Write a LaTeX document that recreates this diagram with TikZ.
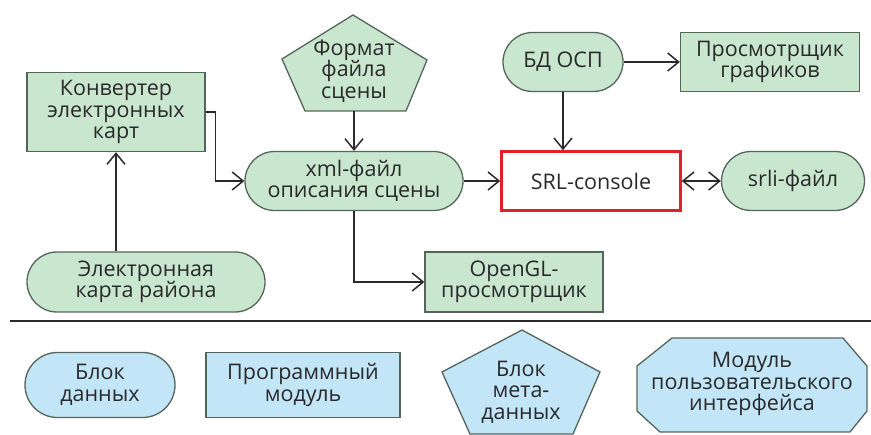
\documentclass[tikz,border=0pt]{standalone}
\usepackage{fontspec}
\setmainfont{Open Sans}
\usetikzlibrary{arrows.meta,shapes.misc}

\definecolor{greenfill}{HTML}{C9E6CF}
\definecolor{bluefill}{HTML}{C2E5F7}
\definecolor{edge}{HTML}{56655B}
\definecolor{ink}{HTML}{2A2A2A}
\definecolor{redbox}{HTML}{E0202A}

\tikzset{
  base/.style={draw=edge, line width=1.3pt, align=center, inner sep=0pt, text=ink},
  gbox/.style={base, rectangle, fill=greenfill},
  gpill/.style={base, rounded rectangle, fill=greenfill},
  bbox/.style={base, rectangle, fill=bluefill},
  bpill/.style={base, rounded rectangle, fill=bluefill},
  label/.style={align=center, inner sep=0pt, text=ink},
  arr/.style={draw=ink, line width=1.5pt,
    -{Straight Barb[length=11pt,width=18pt]}},
  biarr/.style={draw=ink, line width=1.5pt,
    {Straight Barb[length=11pt,width=18pt]}-{Straight Barb[length=11pt,width=18pt]}},
}

\begin{document}
\begin{tikzpicture}[x=1pt,y=-1pt,font=\fontsize{21.5}{21.5}\selectfont]
  \useasboundingbox (0,0) rectangle (871,435);

  % upper diagram: blocks
  \node[gbox, minimum width=178pt, minimum height=79pt] (conv) at (116,112)
    {Конвертер\\электронных\\карт};

  \draw[base, fill=greenfill] (353,15) -- (427,60) -- (406,111) -- (305,111) -- (282,59) -- cycle;
  \node[label] (fmt) at (354,71) {Формат\\файла\\сцены};
  \coordinate (fmtb) at (354,111);

  \node[gpill, minimum width=218pt, minimum height=59pt] (xml) at (354,181)
    {xml-файл\\описания сцены};
  \node[base, rectangle, fill=white, draw=redbox, line width=2.6pt,
        minimum width=179pt, minimum height=59pt] (srl) at (591,181) {SRL-console};
  \node[gpill, minimum width=143pt, minimum height=59pt] (srli) at (793,181) {srli-файл};
  \node[gpill, minimum width=120pt, minimum height=59pt] (bd) at (563,62) {БД ОСП};
  \node[gbox, minimum width=179pt, minimum height=59pt] (view) at (770,62)
    {Просмотрщик\\графиков};
  \node[gpill, minimum width=238pt, minimum height=60pt] (emap) at (146,282)
    {Электронная\\карта района};
  \node[gbox, minimum width=178pt, minimum height=60pt] (ogl) at (514,282)
    {OpenGL-\\просмотрщик};

  % upper diagram: connectors
  \draw[arr] (conv.south |- emap.north) -- (conv.south);
  \draw[arr] (conv.east) -- ++(10,0) |- (xml.west);
  \draw[arr] (fmtb) -- (xml.north);
  \draw[arr] (xml.east) -- (srl.west);
  \draw[arr] (xml.south) |- (ogl.west);
  \draw[arr] (bd.south) -- (bd.south |- srl.north);
  \draw[arr] (bd.east) -- (view.west);
  \draw[biarr] (srl.east) -- (srli.west);

  % separator
  \draw[draw=ink, line width=1.5pt] (10,321) -- (871,321);

  % legend
  \node[bpill, minimum width=150pt, minimum height=65pt] (ldata) at (100,385)
    {Блок\\данных};
  \node[bbox, minimum width=194pt, minimum height=65pt] (lprog) at (303,385)
    {Программный\\модуль};

  \draw[base, fill=bluefill] (522,330) -- (600,372) -- (573,434) -- (470,434) -- (442,372) -- cycle;
  \node[label] (lmeta) at (521,392) {Блок\\мета-\\данных};

  \draw[base, fill=bluefill] (672,338) -- (843,338) -- (867,366) -- (867,411)
    -- (850,432) -- (660,432) -- (637,411) -- (637,366) -- cycle;
  \node[label] (lui) at (752,384) {Модуль\\пользовательского\\интерфейса};
\end{tikzpicture}
\end{document}
